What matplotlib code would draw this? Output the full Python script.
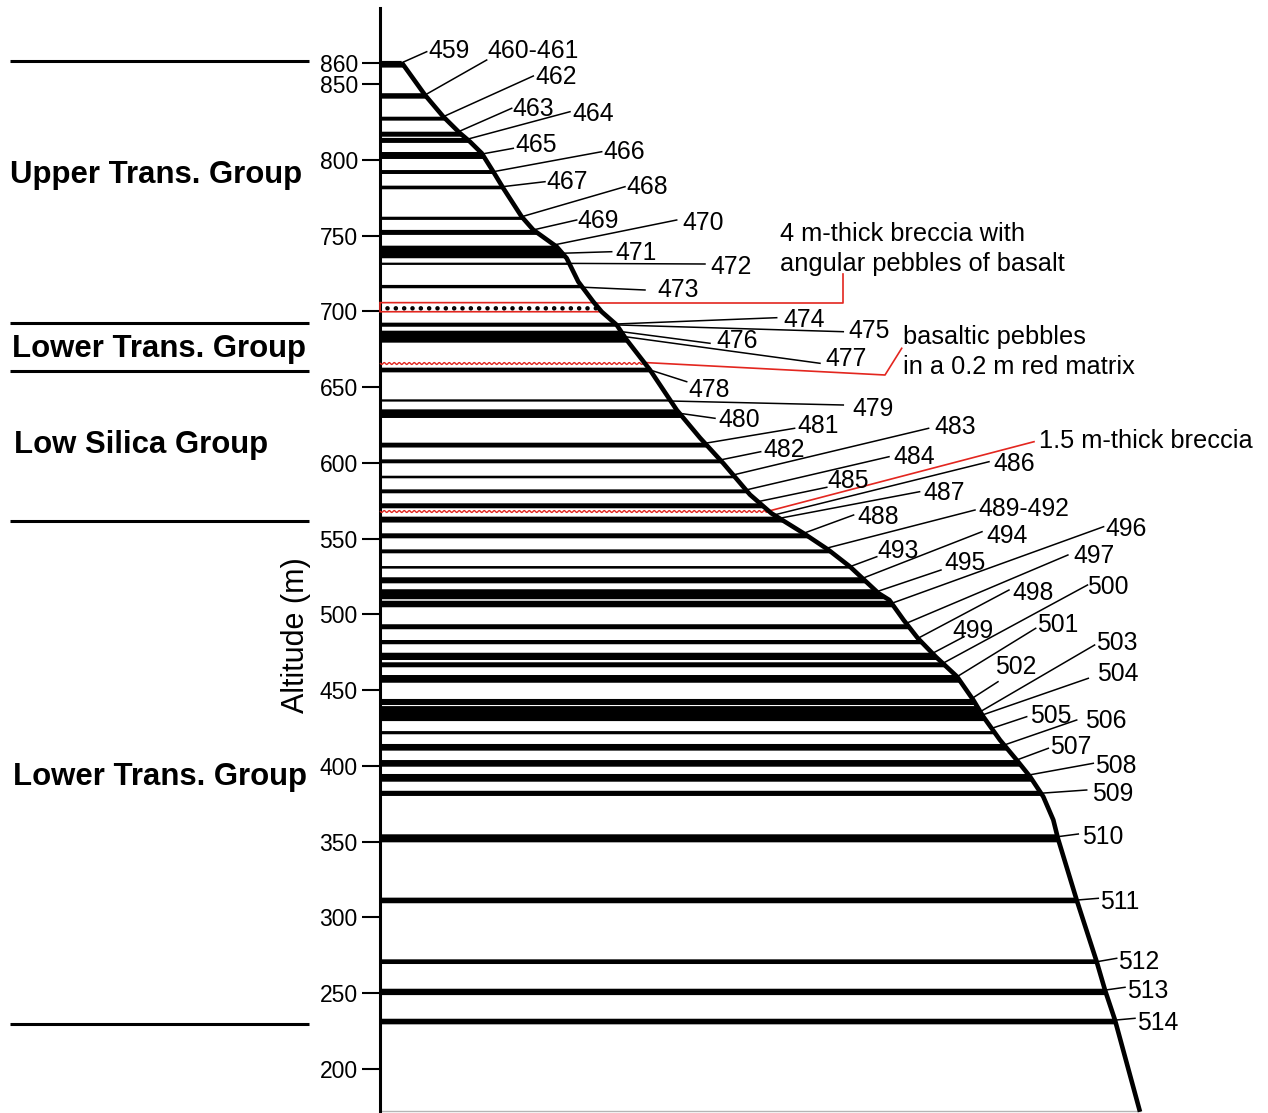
import numpy as np
import matplotlib
matplotlib.use("Agg")
import matplotlib.pyplot as plt

plt.rcParams['font.family'] = ['Liberation Sans', 'DejaVu Sans']
plt.rcParams['hatch.linewidth'] = 2.0
plt.rcParams['hatch.color'] = 'black'

# ------------------------------------------------------------------ data
# black lava-flow bars (altitude, m)
flow_bottom = [860.8, 840.3, 825.8, 815.2, 811.1, 800.5, 790.6, 780.5, 760.3, 750.4,
               735.0, 730.6, 715.2, 689.8, 679.3, 659.7, 640.4, 629.6, 610.1, 599.7,
               589.8, 579.9, 570.0, 560.6, 550.2, 540.3, 530.2, 520.5, 510.0, 504.7,
               490.2, 480.3, 469.9, 465.1, 454.9, 440.2, 429.6, 420.9, 410.1, 399.5,
               389.6, 380.2, 349.6, 309.4, 269.3, 248.8, 229.5]
flow_top = [865.2, 843.9, 828.4, 818.5, 814.4, 805.1, 793.2, 782.9, 762.4, 753.7,
            743.3, 732.1, 717.4, 692.5, 687.2, 662.8, 641.9, 635.3, 613.3, 602.3,
            591.5, 582.5, 573.3, 564.5, 553.5, 542.9, 531.9, 524.5, 516.6, 509.0,
            493.5, 483.1, 474.7, 468.4, 460.0, 444.2, 439.5, 423.0, 414.5, 403.9,
            394.7, 383.6, 354.9, 313.1, 272.4, 253.0, 233.2]

# right-hand weathering profile of the column (drawing units vs altitude)
profile_x = [401.7, 425, 443.3, 460, 470, 481.7, 493.3, 503.3, 521.7, 533.3,
             556.7, 566.7, 578.3, 593.3, 601.7, 616.7, 626.7, 650, 676.7, 700,
             723.3, 750, 771.4, 803.6, 828.6, 850, 878.6, 889.3, 903.6, 917.9,
             935.7, 957.1, 973.3, 983.3, 1000, 1016.7, 1030, 1043.3, 1053.3, 1058,
             1076.7, 1096.7, 1105, 1115, 1140]
profile_alt = [864.1, 842.7, 828.4, 817.5, 811.9, 804.3, 792.1, 781.2, 762.4, 753.7,
               742.6, 735.0, 719.5, 706.3, 699.7, 691.0, 681.1, 661.3, 634.9, 616.5,
               599.7, 579.0, 566.7, 553.5, 542.5, 531.5, 513.9, 509.5, 496.3, 484.2,
               472.1, 458.9, 443.5, 432.5, 417.1, 403.9, 393.0, 379.7, 364.4, 352.0,
               311.5, 270.8, 252.1, 232.3, 171.8]

# dotted breccia bed and red (wavy) horizons
breccia_bottom, breccia_top = 699.7, 705.7
red_horizon_alt = [666.2, 568.2]

# flow numbers and the altitude where each leader leaves the profile
flow_labels = ["459", "460-461", "462", "463", "464", "465", "466", "467", "468", "469",
               "470", "471", "472", "473", "474", "475", "476", "477", "478", "479",
               "480", "481", "482", "483", "484", "485", "486", "487", "488", "489-492",
               "493", "494", "495", "496", "497", "498", "499", "500", "501", "502",
               "503", "504", "505", "506", "507", "508", "509", "510", "511", "512",
               "513", "514"]
leader_alt = [864.0, 842.7, 828.4, 818.5, 813.5, 803.8, 792.1, 782.2, 762.4, 753.7,
              743.8, 738.3, 731.6, 715.9, 691.6, 691.0, 686.6, 683.3, 661.3, 640.8,
              632.7, 612.9, 601.9, 592.0, 582.1, 574.4, 565.6, 563.4, 553.5, 543.6,
              531.5, 523.8, 515.0, 507.3, 494.1, 484.2, 474.3, 467.7, 458.9, 444.6,
              435.8, 433.6, 424.8, 413.8, 403.9, 394.0, 382.0, 353.3, 311.5, 270.8,
              252.1, 232.3]

# stratigraphic groups
group_bounds = [865.2, 692.1, 660.8, 561.8, 229.7]
group_names = ["Upper Trans. Group", "Lower Trans. Group", "Low Silica Group",
               "Lower Trans. Group"]

tick_labels = ["200", "250", "300", "350", "400", "450", "500", "550", "600",
               "650", "700", "750", "800", "850", "860"]
tick_alt = [200, 250, 300, 350, 400, 450, 500, 550, 600, 650, 700, 750, 800, 850, 863.6]

# ------------------------------------------------------------------ layout
W, H = 1268, 1113
Y_TOP, Y_BOT = 905.4, 171.0
PX_PER_M = H / (Y_TOP - Y_BOT)
AXIS_X = 380
RED = '#e3261f'


def alt_of(py):
    return Y_TOP - py / PX_PER_M


# label text anchor (left, centre) and leader end, in layout pixels
label_tx = [428, 487, 535, 512, 572, 515, 603, 546, 626, 577,
            682, 615, 710, 657, 783, 848, 716, 825, 688, 852,
            718, 797, 763.6, 934, 893, 827, 993, 923, 857, 978.6,
            877, 986, 944.6, 1105, 1073, 1012.5, 952, 1087.5, 1037.5, 994.6,
            1096, 1096.7, 1030, 1085, 1050, 1095, 1091.7, 1081.7, 1100, 1118,
            1126.7, 1136.7]
label_ty = [48.5, 48.5, 75, 106, 111.7, 142.7, 150, 180, 185, 218.3,
            221, 251, 265, 287.3, 318, 329, 339, 356.7, 388, 406,
            418, 423.3, 447.3, 425, 455, 478.3, 461.7, 490, 515, 506,
            548.3, 533.3, 560, 526, 553.3, 590.7, 628.3, 585, 622.7, 665,
            640, 671.7, 713.3, 718.3, 745, 763.3, 791.7, 835, 899.3, 959.3,
            988.3, 1020]
lead_ex = [426.7, 486.7, 533.3, 511.7, 570, 513.3, 601.7, 545, 625, 576.7,
           676.7, 611.7, 705, 645, 776.7, 843.3, 710, 820, 686.7, 843.3,
           715, 794.6, 760.7, 928.6, 889, 826.8, 989, 919.6, 853.6, 975,
           876.8, 982, 941, 1103.6, 1067.9, 1009, 964, 1087.5, 1035.7, 998,
           1094.6, 1088.3, 1026.7, 1076.7, 1048.3, 1093.3, 1086.7, 1078.3, 1098.3, 1116.7,
           1125, 1135]
lead_ey = [51.7, 60, 76, 108.3, 111.7, 148.3, 151.7, 181.7, 186.7, 220,
           220, 251.7, 264, 290, 317.7, 331.7, 343.3, 363.3, 381.7, 405,
           418.3, 428.3, 451.7, 428.3, 456.7, 487.3, 461.7, 491.7, 515, 510,
           556.7, 531.7, 570, 526.7, 555, 590, 636.7, 585, 628.3, 681.7,
           645, 678.3, 716.7, 720, 748.3, 763.3, 790, 834, 898.3, 958.3,
           987.3, 1018.3]

group_label_x = [10, 12, 14, 13]
group_label_py = [172, 346, 441, 773]

# ------------------------------------------------------------------ figure
fig = plt.figure(figsize=(W / 100, H / 100), dpi=100)
ax = fig.add_axes([0, 0, 1, 1])
ax.set_xlim(0, W)
ax.set_ylim(Y_BOT, Y_TOP)

pa = np.array(profile_alt)[::-1]
pxs = np.array(profile_x)[::-1]


def edge(a):
    return np.interp(a, pa, pxs)


# black flow bars
for b, t in zip(flow_bottom, flow_top):
    ys = np.linspace(b, t, 6)
    ax.fill_betweenx(ys, AXIS_X, edge(ys), facecolor='black', edgecolor='none', lw=0,
                     zorder=2)

# dotted breccia with red outline
ys = np.linspace(breccia_bottom, breccia_top, 6)
xs_poly = np.concatenate([[AXIS_X] * len(ys), edge(ys[::-1])])
ys_poly = np.concatenate([ys, ys[::-1]])
ax.fill(xs_poly, ys_poly, facecolor='white', edgecolor='black', hatch='..',
        lw=0.0, zorder=2)
ax.fill(xs_poly, ys_poly, facecolor='none', edgecolor=RED, lw=1.2, zorder=3)

# red wavy horizons
for a in red_horizon_alt:
    ln, = ax.plot([AXIS_X, edge(a)], [a, a], color=RED, lw=1.0, zorder=3)
    ln.set_sketch_params(scale=1.0, length=5, randomness=1)

# profile line
ax.plot(profile_x, profile_alt, color='black', lw=3.3, solid_joinstyle='round',
        solid_capstyle='butt', zorder=4)
ax.plot([AXIS_X, 1140], [Y_BOT + 1.0, Y_BOT + 1.0], color='#b5b5b5', lw=1.0, zorder=1)

# flow labels with leaders
for lab, la, tx, ty, ex, ey in zip(flow_labels, leader_alt, label_tx, label_ty,
                                    lead_ex, lead_ey):
    ax.plot([edge(la), ex], [la, alt_of(ey)], color='black', lw=1.1, zorder=3)
    ax.text(tx, alt_of(ty), lab, fontsize=17.8, ha='left', va='center_baseline',
            zorder=5)

# red annotations
ax.plot([edge(breccia_top), 842.7, 842.7], [breccia_top, breccia_top, alt_of(274)],
        color=RED, lw=1.2, zorder=3)
ax.text(780, alt_of(232), "4 m-thick breccia with", fontsize=18.3, ha='left',
        va='center_baseline')
ax.text(780, alt_of(261), "angular pebbles of basalt", fontsize=18.3, ha='left',
        va='center_baseline')

a = red_horizon_alt[0]
ax.plot([edge(a), 885, 901.7], [a, alt_of(375), alt_of(348.3)], color=RED, lw=1.2,
        zorder=3)
ax.text(903, alt_of(335), "basaltic pebbles", fontsize=18.3, ha='left',
        va='center_baseline')
ax.text(903, alt_of(364), "in a 0.2 m red matrix", fontsize=18.3, ha='left',
        va='center_baseline')

a = red_horizon_alt[1]
ax.plot([edge(a), 1034], [a, alt_of(441.7)], color=RED, lw=1.2, zorder=3)
ax.text(1039, alt_of(438), "1.5 m-thick breccia", fontsize=18.3, ha='left',
        va='center_baseline')

# group boundaries and names
for g in group_bounds:
    ax.plot([10, 309], [g, g], color='black', lw=2.2, solid_capstyle='butt')
for name, gx, gpy in zip(group_names, group_label_x, group_label_py):
    ax.text(gx, alt_of(gpy), name, fontsize=22.4, fontweight='bold', ha='left',
            va='center_baseline')

# altitude axis
for s in ['top', 'right', 'bottom']:
    ax.spines[s].set_visible(False)
ax.spines['left'].set_position(('data', AXIS_X))
ax.spines['left'].set_bounds(Y_BOT + 1.2, alt_of(8))
ax.spines['left'].set_linewidth(2.2)
ax.set_xticks([])
ax.set_yticks(tick_alt, labels=tick_labels)
ax.tick_params(axis='y', direction='out', length=13, width=1.5, pad=3.0,
               labelsize=16.5)
ax.set_ylabel("Altitude (m)", fontsize=22)
ax.yaxis.set_label_coords(311 / W, 1 - 635 / H)

fig.savefig("out.png", dpi=100)
